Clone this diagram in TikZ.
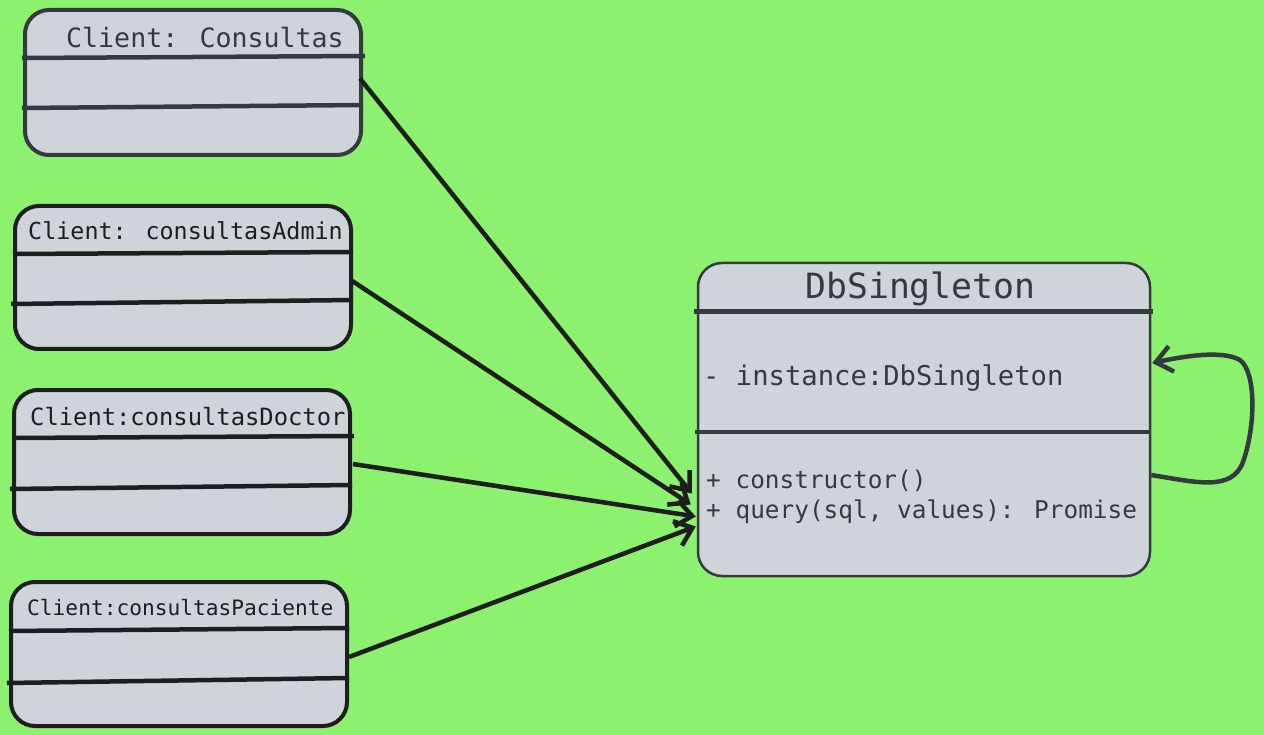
\documentclass[tikz,border=0pt]{standalone}
\usepackage{fontspec}
\usetikzlibrary{arrows.meta}
\newfontfamily\mono{DejaVu Sans Mono}
\definecolor{bggreen}{RGB}{141,241,112}
\definecolor{boxfill}{HTML}{CED4DA}
\definecolor{darkA}{HTML}{343A40}
\definecolor{darkB}{HTML}{1E1E1E}
\tikzset{
  clsbox/.style={draw, fill=boxfill, rounded corners=24pt, line width=4pt, inner sep=0pt},
  divider/.style={line width=4.5pt},
  lbl/.style={inner sep=0pt, anchor=base west, font=\mono},
  conn/.style={line width=4.5pt, draw=darkB, -{Straight Barb[length=16pt,width=26pt]}},
}
\begin{document}
\begin{tikzpicture}[x=1pt,y=-1pt]
\useasboundingbox[fill=bggreen] (0,0) rectangle (1264,735);

% Client boxes
\node[clsbox, draw=darkA, minimum width=336pt, minimum height=145pt] (c1) at (193,82.5) {};
\node[clsbox, draw=darkB, minimum width=336pt, minimum height=143pt] (c2) at (183,277.5) {};
\node[clsbox, draw=darkB, minimum width=336pt, minimum height=144pt] (c3) at (182,462) {};
\node[clsbox, draw=darkB, minimum width=336pt, minimum height=144pt] (c4) at (179,654) {};

% DbSingleton
\node[clsbox, draw=darkA, line width=2.5pt, minimum width=452pt, minimum height=313pt] (db) at (924,419.5) {};

% dividers
\draw[divider, darkA] ([yshift=-50pt,xshift=-1pt]c1.north west) -- ([yshift=-48pt,xshift=2pt]c1.north east);
\draw[divider, darkA] ([yshift=-100pt,xshift=-1pt]c1.north west) -- ([yshift=-97pt]c1.north east);
\draw[divider, darkB] ([yshift=-50pt]c2.north west) -- ([yshift=-48pt]c2.north east);
\draw[divider, darkB] ([yshift=-100pt,xshift=-2pt]c2.north west) -- ([yshift=-96pt]c2.north east);
\draw[divider, darkB] ([yshift=-50pt]c3.north west) -- ([yshift=-48pt,xshift=2pt]c3.north east);
\draw[divider, darkB] ([yshift=-101pt,xshift=-2pt]c3.north west) -- ([yshift=-97pt]c3.north east);
\draw[divider, darkB] ([yshift=-51pt]c4.north west) -- ([yshift=-48pt]c4.north east);
\draw[divider, darkB] ([yshift=-103pt,xshift=-2pt]c4.north west) -- ([yshift=-98pt]c4.north east);
\draw[divider, darkA] ([yshift=-50pt,xshift=-3pt]db.north west) -- ([yshift=-50pt,xshift=2pt]db.north east);
\draw[divider, darkA] ([yshift=-170pt,xshift=-2pt]db.north west) -- ([yshift=-170pt]db.north east);

% labels
\node[lbl, text=darkA, font=\mono\fontsize{26.6}{30}\selectfont] (t1) at (66,48) {Client: Consultas};
\node[lbl, text=darkB, font=\mono\fontsize{23.4}{28}\selectfont] (t2) at (28,240) {Client: consultasAdmin};
\node[lbl, text=darkB, font=\mono\fontsize{23.8}{28}\selectfont] (t3) at (30,425) {Client:consultasDoctor};
\node[lbl, text=darkB, font=\mono\fontsize{21.2}{26}\selectfont] (t4) at (27,615) {Client:consultasPaciente};
\node[lbl, text=darkA, font=\mono\fontsize{34.8}{40}\selectfont] (dbt) at (805,299) {DbSingleton};
\node[lbl, text=darkA, font=\mono\fontsize{27.2}{30}\selectfont] (dba) at (703,385) {- instance:DbSingleton};
\node[lbl, text=darkA, font=\mono\fontsize{24.4}{30}\selectfont] (dbm1) at (706,488) {+ constructor()};
\node[lbl, text=darkA, font=\mono\fontsize{24.4}{30}\selectfont] (dbm2) at (706,518) {+ query(sql, values): Promise};

% connector end points
\coordinate (e1) at ([xshift=-5pt,yshift=-74pt]db.west);
\coordinate (e2) at ([xshift=-6pt,yshift=-85pt]db.west);
\coordinate (e3) at ([xshift=-1pt,yshift=-97pt]db.west);
\coordinate (e4) at ([xshift=-1pt,yshift=-107pt]db.west);
\coordinate (s1) at ([xshift=-3pt,yshift=4pt]c1.east);
\coordinate (s2) at ([xshift=-3pt,yshift=-2pt]c2.east);
\coordinate (s3) at ([xshift=1pt,yshift=-2pt]c3.east);
\coordinate (s4) at ([yshift=-3pt]c4.east);

\draw[conn] (s1) -- (e1);
\draw[conn] (s2) -- (e2);
\draw[conn] (s3) -- (e3);
\draw[conn] (s4) -- (e4);

% self loop
\coordinate (ls) at ([yshift=-55.5pt]db.east);
\coordinate (le) at ([xshift=1pt,yshift=56.5pt]db.east);
\draw[line width=4.5pt, draw=darkA, -{Straight Barb[length=16pt,width=26pt]}]
  (ls) .. controls (1195,482) and (1232,492) .. (1243,462)
  .. controls (1256,425) and (1256,372) .. (1240,360)
  .. controls (1222,350) and (1185,356) .. (le);
\end{tikzpicture}
\end{document}
